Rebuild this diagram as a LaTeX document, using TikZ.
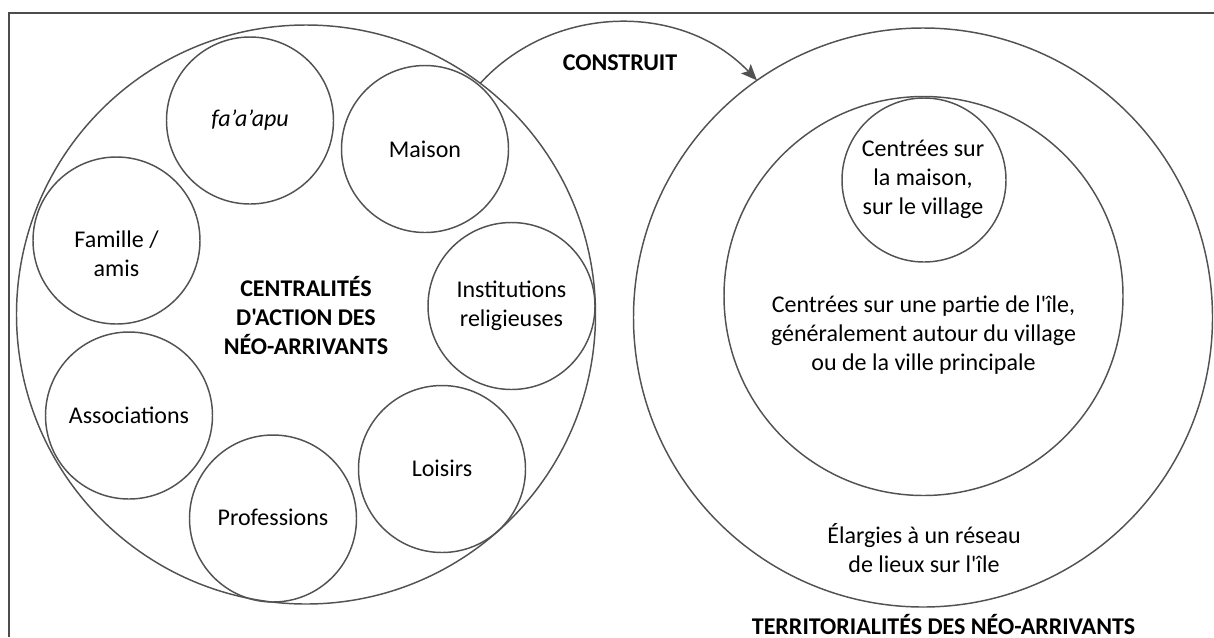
\documentclass[tikz,border=0pt]{standalone}
\usepackage{fontspec}
\setmainfont{Carlito}[Ligatures=TeXOff]
\usetikzlibrary{arrows.meta}
\begin{document}
\begin{tikzpicture}[x=0.75pt,y=-0.75pt,
  ring/.style={circle,draw=black!68,line width=1.1pt,inner sep=0pt,outer sep=0pt},
  bubble/.style={ring,minimum size=125.25pt},
  lbl/.style={align=center,inner sep=0pt,text=black,font=\fontsize{18}{21.75}\selectfont},
  ttl/.style={align=center,inner sep=0pt,text=black,font=\fontsize{18}{21.75}\selectfont\bfseries}]
\useasboundingbox (0,0) rectangle (1214,637);
% frame (only top and left edges visible)
\coordinate (f1) at (1214,13);
\coordinate (f2) at (9,13);
\coordinate (f3) at (9,637);
\draw[black!70,line width=1.4pt] (f1) -- (f2) -- (f3);
% left group
\node[ring,minimum size=434.25pt] (L) at (306,314.5) {};
\node[bubble] (c1) at (250,120.5) {};
\node[bubble] (c2) at (425,149) {};
\node[bubble] (c3) at (116.5,240.5) {};
\node[bubble] (c4) at (511.5,306) {};
\node[bubble] (c5) at (129,415.5) {};
\node[bubble] (c6) at (273,518.5) {};
\node[bubble] (c7) at (442,469) {};
\node[lbl] (t1) at (250,120.5) {\itshape fa’a’apu};
\node[lbl] (t2) at (425,149) {Maison};
\node[lbl] (t3) at (116.5,254) {Famille /\\amis};
\node[lbl] (t4) at (511.5,306) {Institutions\\religieuses};
\node[lbl] (t5) at (129,415.5) {Associations};
\node[lbl] (t6) at (273,517.5) {Professions};
\node[lbl] (t7) at (442,468.5) {Loisirs};
\node[ttl] (tl) at (306,315) {CENTRALITÉS\\D'ACTION DES\\NÉO-ARRIVANTS};
% right group
\node[ring,minimum size=434.25pt] (R) at (923,317.5) {};
\node[ring,minimum size=299.25pt] (M) at (923.5,296) {};
\node[ring,minimum size=123pt] (I) at (924,180) {};
\node[lbl] (u1) at (923,179) {Centrées sur\\la maison,\\sur le village};
\node[lbl] (u2) at (923.5,335) {Centrées sur une partie de l'île,\\généralement autour du village\\ou de la ville principale};
\node[lbl] (u3) at (924,548.5) {Élargies à un réseau\\de lieux sur l'île};
\node[ttl] (tr) at (943.5,624.5) {TERRITORIALITÉS DES NÉO-ARRIVANTS};
% arrow
\node[ttl] (k) at (620,63) {CONSTRUIT};
\draw[black!68,line width=1.1pt,-{Stealth[length=12pt,width=10pt,inset=2.5pt]}] (L.53) to[bend left=47] (R.125.6);
\end{tikzpicture}
\end{document}
